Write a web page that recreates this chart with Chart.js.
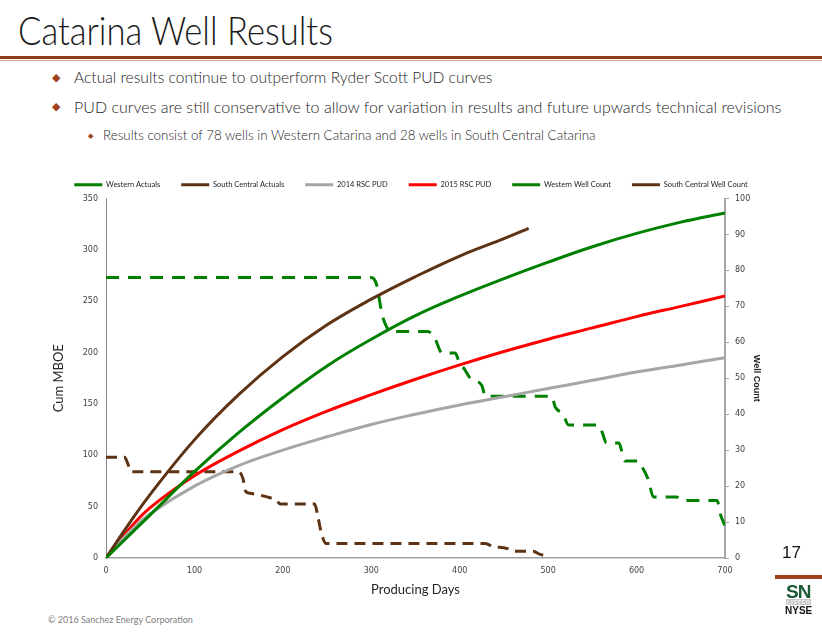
<!DOCTYPE html>
<html>
<head>
<meta charset="utf-8">
<script src="https://cdn.jsdelivr.net/npm/chart.js@4"></script>
<style>
  body { margin: 0; width: 822px; height: 635px; background: #fff; position: relative; overflow: hidden; font-family: Lato, "Open Sans", sans-serif; }
  .abs { position: absolute; white-space: nowrap; }
  #title { left: 18px; top: 6px; font-size: 40px; font-weight: 300; color: #1a1a1a; transform: scaleX(0.865); transform-origin: left top; }
  #rule1 { left: 0; top: 56px; width: 822px; height: 3px; background: #8e3a1c; }
  #rule2 { left: 0; top: 60px; width: 822px; height: 1px; background: #d8a58f; }
  .dia { color: #a0411c; }
  .b1 { font-size: 15.6px; font-weight: 300; color: #262626; }
  .b2 { font-size: 13.35px; font-weight: 300; color: #262626; }
  #chartBox { left: 0; top: 152px; width: 822px; height: 455px; }
  #footer { left: 48px; top: 614px; font-size: 9px; color: #808080; }
  #page { left: 782px; top: 543px; font-family: "Liberation Sans", Arial, sans-serif; font-size: 17px; color: #111; }
  #logoRule { left: 775px; top: 575px; width: 47px; height: 4px; background: #a0401c; }
  #sn { left: 786px; top: 581px; font-family: "Liberation Sans", Arial, sans-serif; font-weight: bold; font-size: 19px; color: #1e5a36; letter-spacing: -1px; }
  #listed { left: 786px; top: 599px; padding: 0 1px; background: #c8c8c8; font-family: "Liberation Sans", Arial, sans-serif; font-weight: bold; font-size: 6px; line-height: 6px; color: #eee; letter-spacing: 0.3px; }
  #nyse { left: 785px; top: 605px; font-family: "Liberation Sans", Arial, sans-serif; font-weight: bold; font-size: 10px; color: #111; }
</style>
</head>
<body>
<div class="abs" id="title">Catarina Well Results</div>
<div class="abs" id="rule1"></div>
<div class="abs" id="rule2"></div>
<div class="abs dia" style="left:52px;top:70px;font-size:11px;">&#9670;</div>
<div class="abs b1" style="left:74px;top:68px;">Actual results continue to outperform Ryder Scott PUD curves</div>
<div class="abs dia" style="left:52px;top:99px;font-size:11px;">&#9670;</div>
<div class="abs b1" style="left:74px;top:97px;font-size:16px;">PUD curves are still conservative to allow for variation in results and future upwards technical revisions</div>
<div class="abs dia" style="left:88px;top:131px;font-size:7px;">&#9670;</div>
<div class="abs b2" style="left:103px;top:127px;">Results consist of 78 wells in Western Catarina and 28 wells in South Central Catarina</div>
<div class="abs" id="chartBox"><canvas id="wellChart" width="822" height="455"></canvas></div>
<div class="abs" id="footer">&copy; 2016 Sanchez Energy Corporation</div>
<div class="abs" id="page">17</div>
<div class="abs" id="logoRule"></div>
<div class="abs" id="sn">SN</div>
<div class="abs" id="listed">LISTED</div>
<div class="abs" id="nyse">NYSE</div>
<script>
// Cumulative production curves (MBOE) by producing day
const curveDays = [0, 25, 50, 100, 150, 200, 250, 300, 350, 400, 450, 500, 550, 600, 650, 700];
const westernActuals = [0, 21, 42, 84, 122, 156, 187, 213, 236, 255, 272, 288, 303, 316, 327, 336];
const pud2014 = [0, 24, 43, 70, 90, 105, 118, 130, 140, 149, 157, 165, 173, 181, 188, 195];
const pud2015 = [0, 27, 49, 80, 104, 125, 143, 159, 174, 188, 201, 213, 224, 235, 245, 255];
const scDays = [0, 25, 50, 100, 150, 200, 250, 300, 350, 400, 450, 478];
const southCentralActuals = [0, 32, 62, 115, 159, 196, 227, 252, 274, 294, 311, 321];

// Well counts (right axis)
const westernWellDays = [0, 300, 306, 312, 316, 322, 364, 372, 380, 395, 400, 404, 412, 425, 429, 504, 508, 517, 523, 557, 561, 566, 580, 583, 587, 602, 607, 613, 619, 638, 645, 651, 691, 695, 700];
const westernWellCount = [78, 78, 76, 68, 65, 63, 63, 61, 57, 57, 54, 53, 50, 48, 45, 45, 42, 40, 37, 37, 35, 32, 32, 30, 27, 27, 25, 22, 17, 17, 17, 16, 16, 12, 9];
const scWellDays = [0, 21, 25, 28, 150, 155, 158, 163, 182, 193, 197, 236, 240, 244, 249, 429, 440, 445, 457, 461, 483, 491, 495];
const scWellCount = [28, 28, 26, 24, 24, 22, 18.5, 18, 17, 16, 15, 15, 11, 6.5, 4, 4, 3, 3, 2.4, 1.9, 1.9, 1, 0.8];

// Tick labels
const xTicks = [0, 100, 200, 300, 400, 500, 600, 700];
const mboeTicks = [0, 50, 100, 150, 200, 250, 300, 350];
const wellTicks = [0, 10, 20, 30, 40, 50, 60, 70, 80, 90, 100];

const GREEN = '#008000';
const BROWN = '#5e3313';

function pts(xs, ys) {
  return ys.map((y, i) => ({ x: xs[i], y: y }));
}

const tickFont = { family: 'DejaVu Sans', size: 8 };

// smooth curves use bezier tension, step-like well counts use monotone
const curve = { borderWidth: 3, tension: 0.4, yAxisID: 'y' };
const count = { borderWidth: 3, cubicInterpolationMode: 'monotone', yAxisID: 'y1' };

const data = {
  datasets: [{
    ...curve,
    label: 'Western Actuals',
    data: pts(curveDays, westernActuals),
    borderColor: GREEN
  }, {
    ...curve,
    label: 'South Central Actuals',
    data: pts(scDays, southCentralActuals),
    borderColor: BROWN
  }, {
    ...curve,
    label: '2014 RSC PUD',
    data: pts(curveDays, pud2014),
    borderColor: '#a6a6a6'
  }, {
    ...curve,
    label: '2015 RSC PUD',
    data: pts(curveDays, pud2015),
    borderColor: '#ff0000'
  }, {
    ...count,
    label: 'Western Well Count',
    data: pts(westernWellDays, westernWellCount),
    borderColor: GREEN,
    borderDash: [13, 9]
  }, {
    ...count,
    label: 'South Central Well Count',
    data: pts(scWellDays, scWellCount),
    borderColor: BROWN,
    borderDash: [11, 7]
  }]
};

const options = {
  responsive: false,
  animation: false,
  layout: { padding: { left: 20, right: 20, top: 8, bottom: 5 } },
  elements: {
    point: { radius: 0 },
    line: { fill: false, borderCapStyle: 'butt' }
  },
  plugins: {
    tooltip: { enabled: false },
    legend: {
      position: 'top',
      labels: {
        usePointStyle: true,
        pointStyle: 'line',
        pointStyleWidth: 28,
        padding: 21,
        color: '#262626',
        font: { family: 'Lato', size: 7.5 }
      }
    }
  },
  scales: {
    x: {
      type: 'linear',
      min: 0,
      max: 700,
      afterBuildTicks: (s) => { s.ticks = xTicks.map(v => ({ value: v })); },
      afterFit: (s) => { s.height = 44; },
      grid: { display: false, drawTicks: false },
      border: { display: true, color: '#a0a0a0', width: 1.5 },
      ticks: { padding: 8, color: '#404040', font: tickFont, maxRotation: 0 },
      title: { display: true, text: 'Producing Days', color: '#262626', font: { family: 'Lato', size: 13 }, padding: { top: 2, bottom: 4 } }
    },
    y: {
      position: 'left',
      min: 0,
      max: 350,
      afterBuildTicks: (s) => { s.ticks = mboeTicks.map(v => ({ value: v })); },
      afterFit: (s) => { s.width = 86; },
      grid: { display: false, drawTicks: false },
      border: { display: true, color: '#8c8c8c', width: 1 },
      ticks: { padding: 8, color: '#404040', font: tickFont },
      title: { display: true, text: 'Cum MBOE', color: '#262626', font: { family: 'Lato', size: 13 }, padding: { top: 31, bottom: 0 } }
    },
    y1: {
      position: 'right',
      min: 0,
      max: 100,
      afterBuildTicks: (s) => { s.ticks = wellTicks.map(v => ({ value: v })); },
      afterFit: (s) => { s.width = 77; },
      grid: { display: true, drawOnChartArea: false, drawTicks: true, tickLength: 4, color: '#a6a6a6' },
      border: { display: true, color: '#a6a6a6', width: 2 },
      ticks: { padding: 6, color: '#404040', font: tickFont },
      title: { display: true, text: 'Well Count', color: '#262626', font: { family: 'Liberation Sans', size: 9, weight: 'bold' }, padding: { top: 40, bottom: 0 } }
    }
  }
};

const config = {
  type: 'line',
  data: data,
  options: options
};

const wellChart = new Chart(document.getElementById('wellChart'), config);
</script>
</body>
</html>
